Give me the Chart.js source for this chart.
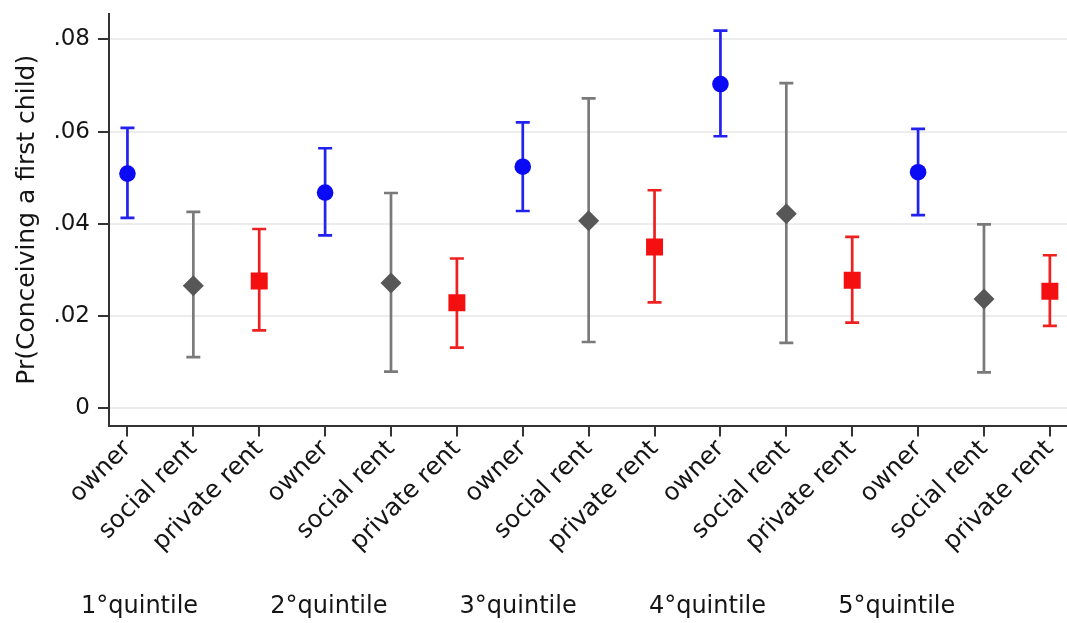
<!DOCTYPE html>
<html>
<head>
<meta charset="utf-8">
<script src="https://cdn.jsdelivr.net/npm/chart.js@4"></script>
<style>
  html, body { margin: 0; padding: 0; background: #fff; overflow: hidden; }
  #wrap { width: 1067px; height: 623px; overflow: hidden; }
  canvas { display: block; }
</style>
</head>
<body>
<div id="wrap"><canvas id="prChart" width="1079" height="623"></canvas></div>
<script>
// tick labels on x: tenure repeated for each income quintile
const tenure = ['owner', 'social rent', 'private rent'];
const quintiles = ['1°quintile', '2°quintile', '3°quintile', '4°quintile', '5°quintile'];
const yTickValues = [0, 0.02, 0.04, 0.06, 0.08];
const yTickLabels = ['0', '.02', '.04', '.06', '.08'];

// point estimates and 95% CI bounds, one value per quintile
const ownerEst = [0.0509, 0.0468, 0.0524, 0.0703, 0.0512];
const ownerLo = [0.0413, 0.0375, 0.0428, 0.0590, 0.0419];
const ownerHi = [0.0608, 0.0564, 0.0620, 0.0819, 0.0606];

const socialEst = [0.0266, 0.0272, 0.0407, 0.0422, 0.0237];
const socialLo = [0.0111, 0.0080, 0.0144, 0.0142, 0.0078];
const socialHi = [0.0426, 0.0467, 0.0672, 0.0705, 0.0399];

const privateEst = [0.0276, 0.0229, 0.0350, 0.0278, 0.0254];
const privateLo = [0.0169, 0.0132, 0.0230, 0.0186, 0.0179];
const privateHi = [0.0389, 0.0325, 0.0473, 0.0372, 0.0332];

const xLabels = [];
quintiles.forEach(() => tenure.forEach(t => xLabels.push(t)));

const FONT = '"DejaVu Sans", "Liberation Sans", sans-serif';
const TEXT = '#151515';

function points(est, lo, hi, offset) {
    return est.map((v, i) => ({ x: i * 3 + offset, y: v, lo: lo[i], hi: hi[i] }));
}

function noPadding(s) {
    s.paddingLeft = 0;
    s.paddingRight = 0;
    s.paddingTop = 0;
    s.paddingBottom = 0;
}

const errorBars = {
    id: 'errorBars',
    beforeDatasetsDraw(chart) {
        const { ctx, scales: { x, y } } = chart;
        chart.data.datasets.forEach(ds => {
            ctx.save();
            ctx.strokeStyle = ds.whiskerColor;
            ctx.lineWidth = 2.7;
            ds.data.forEach(p => {
                const px = x.getPixelForValue(p.x);
                const top = y.getPixelForValue(p.hi);
                const bot = y.getPixelForValue(p.lo);
                ctx.beginPath();
                ctx.moveTo(px, top); ctx.lineTo(px, bot);
                ctx.moveTo(px - 7, top); ctx.lineTo(px + 7, top);
                ctx.moveTo(px - 7, bot); ctx.lineTo(px + 7, bot);
                ctx.stroke();
            });
            ctx.restore();
        });
    },
    afterDraw(chart) {
        const ctx = chart.ctx;
        ctx.save();
        ctx.fillStyle = TEXT;
        ctx.font = '24px ' + FONT;
        ctx.textBaseline = 'middle';
        quintiles.forEach((q, i) => ctx.fillText(q, 81 + i * 189.3, 607));
        ctx.restore();
    }
};

const ctx = document.getElementById('prChart').getContext('2d');
const chart = new Chart(ctx, {
    type: 'scatter',
    data: {
        datasets: [{
            label: 'owner',
            data: points(ownerEst, ownerLo, ownerHi, 0),
            pointStyle: 'circle',
            pointRadius: 8.3,
            backgroundColor: '#0a0af5',
            borderWidth: 0,
            whiskerColor: '#2222f0'
        }, {
            label: 'social rent',
            data: points(socialEst, socialLo, socialHi, 1),
            pointStyle: 'rectRot',
            pointRadius: 10.5,
            backgroundColor: '#575757',
            borderWidth: 0,
            whiskerColor: '#7a7a7a'
        }, {
            label: 'private rent',
            data: points(privateEst, privateLo, privateHi, 2),
            pointStyle: 'rect',
            pointRadius: 12,
            backgroundColor: '#f41010',
            borderWidth: 0,
            whiskerColor: '#ef2020'
        }]
    },
    options: {
        responsive: false,
        animation: false,
        layout: { padding: { top: 14, left: 0, right: 0, bottom: 0 } },
        plugins: { legend: { display: false }, tooltip: { enabled: false } },
        scales: {
            x: {
                type: 'linear',
                min: -0.28,
                max: 14.26,
                afterBuildTicks: s => { s.ticks = xLabels.map((_, i) => ({ value: i })); },
                afterFit: s => { s.height = 623 - 425.5; noPadding(s); },
                border: { color: '#333', width: 2 },
                grid: { drawOnChartArea: false, tickLength: 11, tickColor: '#333', lineWidth: 2 },
                ticks: {
                    autoSkip: false,
                    minRotation: 45,
                    maxRotation: 45,
                    padding: -2,
                    color: TEXT,
                    font: { family: FONT, size: 24.5 },
                    callback: (v) => xLabels[v]
                }
            },
            y: {
                min: -0.0037,
                max: 0.0855,
                afterBuildTicks: s => { s.ticks = yTickValues.map(v => ({ value: v })); },
                afterFit: s => { s.width = 109; noPadding(s); },
                border: { color: '#333', width: 2 },
                grid: { color: '#ececec', lineWidth: 2, tickLength: 11, tickColor: '#333' },
                title: {
                    display: true,
                    text: 'Pr(Conceiving a first child)',
                    color: TEXT,
                    font: { family: FONT, size: 25 },
                    padding: { top: 12, bottom: 0 }
                },
                ticks: {
                    padding: 8,
                    color: TEXT,
                    font: { family: FONT, size: 23 },
                    callback: (v) => yTickLabels[yTickValues.indexOf(v)]
                }
            }
        }
    },
    plugins: [errorBars]
});
</script>
</body>
</html>
